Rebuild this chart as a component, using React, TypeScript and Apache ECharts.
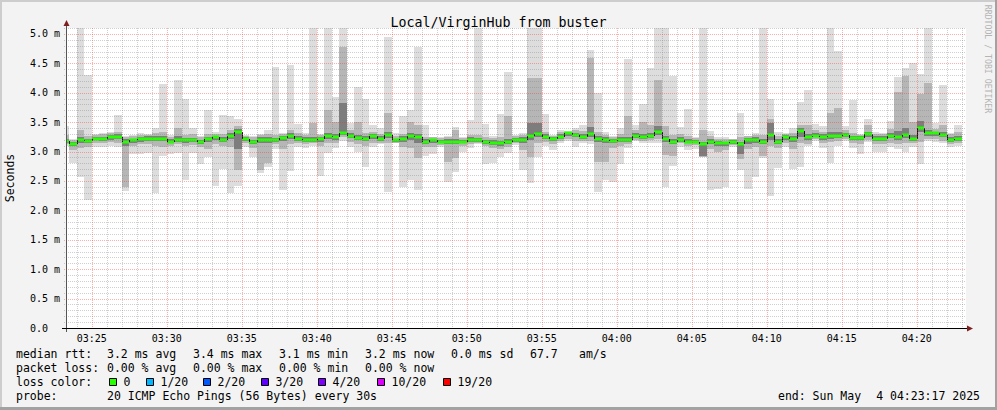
import React, { useEffect, useRef } from "react";
import * as echarts from "echarts";

// ---------- content ----------
const chartTitle = "Local/VirginHub from buster";
const yAxisName = "Seconds";
const watermark = "RRDTOOL / TOBI OETIKER";
const graphStart = "03:23:17";
const graphEnd = "04:23:17";
const firstSampleStart = "03:23:00";
const stepSeconds = 30;
const yMax = 5.1;

const xTickLabels = ["03:25", "03:30", "03:35", "03:40", "03:45", "03:50", "03:55", "04:00", "04:05", "04:10", "04:15", "04:20"];
const yTickLabels = ["0.0", "0.5 m", "1.0 m", "1.5 m", "2.0 m", "2.5 m", "3.0 m", "3.5 m", "4.0 m", "4.5 m", "5.0 m"];

// per 30 s sample, values in ms (values above the top are clipped)
const rttMin = [
  3.10, 2.80, 2.56, 2.17, 3.08, 3.07, 3.10, 3.07, 2.33, 2.96,
  2.95, 2.97, 2.30, 2.93, 2.96, 2.97, 2.52, 2.97, 2.78, 2.90,
  2.42, 2.71, 2.30, 2.42, 3.07, 2.90, 2.63, 2.73, 3.05, 2.35,
  2.67, 3.08, 3.06, 3.09, 2.59, 2.97, 3.06, 3.18, 3.08, 3.00,
  2.74, 3.07, 3.12, 2.32, 3.14, 2.39, 2.52, 2.35, 2.92, 2.96,
  3.08, 2.48, 2.66, 3.00, 3.06, 3.12, 2.78, 2.80, 2.90, 2.97,
  3.11, 2.68, 2.46, 2.90, 3.10, 3.03, 3.14, 3.18, 3.08, 3.14,
  3.12, 2.32, 2.52, 2.48, 2.78, 3.06, 3.18, 3.15, 3.15, 3.14,
  2.39, 2.76, 3.07, 3.02, 3.05, 2.90, 2.35, 2.36, 2.39, 3.08,
  2.69, 2.36, 2.56, 2.89, 2.25, 2.72, 3.08, 2.70, 2.73, 3.10,
  3.18, 3.06, 2.81, 3.10, 3.18, 3.06, 2.96, 3.16, 2.99, 2.99,
  3.08, 3.05, 3.00, 3.08, 2.78, 3.18, 3.17, 3.14, 3.08, 3.10,
];
const smokeLo2 = [
  3.12, 3.03, 3.06, 3.08, 3.14, 3.14, 3.16, 3.15, 2.40, 3.10,
  3.12, 3.13, 3.10, 3.08, 3.10, 3.12, 3.10, 3.11, 3.08, 3.05,
  3.12, 3.10, 3.08, 2.69, 3.14, 3.06, 2.68, 2.80, 3.13, 3.05,
  3.12, 3.14, 3.13, 3.14, 3.10, 3.14, 3.14, 3.25, 3.17, 3.12,
  3.10, 3.15, 3.15, 3.14, 3.15, 3.08, 3.06, 2.89, 3.08, 3.08,
  3.11, 2.83, 2.89, 3.10, 3.12, 3.14, 3.09, 3.06, 3.05, 3.07,
  3.14, 3.02, 2.90, 3.15, 3.16, 3.12, 3.18, 3.22, 3.18, 3.18,
  3.18, 2.83, 2.83, 3.06, 3.10, 3.13, 3.20, 3.18, 3.20, 3.22,
  2.94, 2.92, 3.14, 3.10, 3.11, 2.91, 3.05, 3.00, 3.02, 3.11,
  2.88, 3.05, 3.08, 2.92, 3.10, 3.06, 3.15, 3.05, 3.15, 3.13,
  3.21, 3.14, 3.16, 3.18, 3.22, 3.14, 3.12, 3.20, 3.12, 3.13,
  3.15, 3.13, 3.15, 3.14, 3.17, 3.22, 3.22, 3.18, 3.13, 3.14,
];
const smokeLo3 = [
  3.15, 3.09, 3.14, 3.14, 3.19, 3.18, 3.20, 3.21, 3.10, 3.15,
  3.17, 3.18, 3.18, 3.18, 3.14, 3.16, 3.15, 3.16, 3.13, 3.16,
  3.20, 3.16, 3.22, 3.05, 3.18, 3.13, 3.15, 3.15, 3.16, 3.18,
  3.22, 3.18, 3.17, 3.17, 3.17, 3.22, 3.20, 3.28, 3.23, 3.19,
  3.18, 3.22, 3.18, 3.23, 3.17, 3.17, 3.20, 3.15, 3.13, 3.15,
  3.14, 3.12, 3.12, 3.14, 3.16, 3.16, 3.13, 3.11, 3.10, 3.13,
  3.17, 3.14, 3.20, 3.24, 3.21, 3.18, 3.21, 3.27, 3.24, 3.21,
  3.24, 3.17, 3.15, 3.14, 3.16, 3.17, 3.23, 3.21, 3.23, 3.28,
  3.17, 3.12, 3.17, 3.14, 3.14, 2.93, 3.12, 3.09, 3.09, 3.13,
  2.95, 3.12, 3.15, 3.12, 3.20, 3.13, 3.20, 3.16, 3.25, 3.19,
  3.24, 3.20, 3.22, 3.23, 3.25, 3.19, 3.19, 3.25, 3.18, 3.18,
  3.23, 3.20, 3.23, 3.18, 3.34, 3.27, 3.27, 3.24, 3.17, 3.18,
];
const rttMedian = [
  3.18, 3.13, 3.19, 3.18, 3.22, 3.22, 3.24, 3.25, 3.17, 3.19,
  3.21, 3.22, 3.22, 3.22, 3.17, 3.20, 3.19, 3.19, 3.17, 3.21,
  3.24, 3.20, 3.27, 3.34, 3.22, 3.17, 3.20, 3.20, 3.19, 3.23,
  3.27, 3.22, 3.20, 3.20, 3.21, 3.27, 3.25, 3.31, 3.27, 3.23,
  3.22, 3.26, 3.22, 3.28, 3.19, 3.22, 3.26, 3.25, 3.17, 3.19,
  3.17, 3.17, 3.17, 3.17, 3.20, 3.19, 3.17, 3.15, 3.14, 3.17,
  3.20, 3.20, 3.26, 3.29, 3.25, 3.22, 3.25, 3.31, 3.28, 3.25,
  3.29, 3.22, 3.20, 3.18, 3.20, 3.20, 3.27, 3.24, 3.27, 3.33,
  3.22, 3.17, 3.20, 3.17, 3.17, 3.12, 3.17, 3.15, 3.14, 3.16,
  3.12, 3.20, 3.20, 3.17, 3.28, 3.17, 3.25, 3.22, 3.35, 3.24,
  3.27, 3.25, 3.27, 3.27, 3.28, 3.23, 3.23, 3.30, 3.22, 3.22,
  3.27, 3.25, 3.28, 3.22, 3.40, 3.31, 3.31, 3.28, 3.20, 3.22,
];
const smokeHi3 = [
  3.22, 3.16, 3.24, 3.22, 3.25, 3.25, 3.28, 3.29, 3.21, 3.22,
  3.24, 3.26, 3.26, 3.27, 3.21, 3.27, 3.23, 3.23, 3.20, 3.25,
  3.27, 3.24, 3.31, 3.38, 3.25, 3.20, 3.24, 3.24, 3.23, 3.27,
  3.31, 3.26, 3.24, 3.25, 3.25, 3.32, 3.30, 3.82, 3.31, 3.28,
  3.27, 3.30, 3.26, 3.34, 3.22, 3.26, 3.31, 3.30, 3.21, 3.22,
  3.20, 3.21, 3.22, 3.20, 3.24, 3.23, 3.20, 3.19, 3.18, 3.22,
  3.23, 3.24, 3.48, 3.48, 3.29, 3.25, 3.29, 3.33, 3.32, 3.29,
  3.42, 3.27, 3.24, 3.22, 3.24, 3.25, 3.31, 3.30, 3.31, 3.43,
  3.27, 3.22, 3.24, 3.21, 3.20, 3.17, 3.21, 3.18, 3.17, 3.19,
  3.16, 3.23, 3.24, 3.22, 3.48, 3.21, 3.28, 3.26, 3.40, 3.29,
  3.31, 3.29, 3.33, 3.34, 3.32, 3.27, 3.26, 3.34, 3.26, 3.26,
  3.31, 3.35, 3.40, 3.28, 3.52, 3.37, 3.34, 3.33, 3.24, 3.27,
];
const smokeHi2 = [
  3.28, 3.20, 3.36, 3.27, 3.28, 3.29, 3.31, 3.33, 3.24, 3.26,
  3.28, 3.28, 3.32, 3.34, 3.25, 3.40, 3.28, 3.30, 3.24, 3.29,
  3.30, 3.29, 3.36, 3.44, 3.27, 3.24, 3.28, 3.30, 3.28, 3.30,
  3.36, 3.32, 3.28, 3.48, 3.28, 3.71, 3.51, 4.78, 3.36, 3.51,
  3.32, 3.34, 3.30, 3.65, 3.26, 3.30, 3.51, 3.45, 3.25, 3.24,
  3.23, 3.25, 3.37, 3.23, 3.28, 3.28, 3.24, 3.23, 3.24, 3.61,
  3.26, 3.28, 4.25, 4.25, 3.33, 3.27, 3.33, 3.34, 3.36, 3.35,
  4.59, 3.34, 3.28, 3.25, 3.30, 3.61, 3.36, 3.51, 3.45, 4.22,
  3.43, 3.28, 3.30, 3.26, 3.23, 3.37, 3.26, 3.22, 3.21, 3.21,
  3.25, 3.26, 3.28, 3.28, 3.55, 3.26, 3.30, 3.31, 3.45, 3.45,
  3.36, 3.34, 3.65, 3.74, 3.37, 3.32, 3.28, 3.45, 3.30, 3.29,
  3.38, 4.02, 4.28, 3.50, 3.97, 4.16, 3.38, 3.45, 3.29, 3.33,
];
const rttMax = [
  3.43, 3.22, 5.30, 4.30, 3.30, 3.32, 3.33, 3.62, 3.26, 3.28,
  3.32, 3.30, 3.40, 4.15, 3.28, 4.21, 3.89, 3.40, 3.26, 3.70,
  3.34, 3.62, 3.60, 3.55, 3.28, 3.26, 3.30, 3.36, 4.44, 3.32,
  4.47, 3.47, 3.31, 5.30, 3.30, 5.30, 3.93, 5.30, 3.48, 4.09,
  3.89, 3.45, 3.40, 4.95, 3.31, 3.60, 3.70, 4.78, 3.45, 3.25,
  3.25, 3.27, 3.42, 3.25, 3.54, 5.30, 3.47, 3.27, 3.64, 4.36,
  3.28, 3.31, 5.30, 5.30, 3.64, 3.28, 3.37, 3.35, 3.40, 3.45,
  4.73, 3.99, 3.34, 3.27, 3.40, 4.57, 3.45, 3.81, 4.42, 5.30,
  5.30, 4.29, 3.41, 3.72, 3.25, 5.30, 3.35, 3.24, 3.25, 3.22,
  3.65, 3.27, 3.31, 5.30, 3.89, 3.34, 3.31, 3.40, 3.85, 4.05,
  3.47, 3.44, 5.30, 4.71, 3.43, 3.88, 3.29, 3.55, 3.34, 3.31,
  3.52, 4.27, 4.42, 4.50, 4.31, 5.30, 3.49, 4.13, 3.31, 3.45,
];

const statsRttLabel = "median rtt:";
const statsRtt = ["3.2 ms avg", "3.4 ms max", "3.1 ms min", "3.2 ms now", "0.0 ms sd", "67.7", "am/s"];
const statsLossLabel = "packet loss:";
const statsLoss = ["0.00 % avg", "0.00 % max", "0.00 % min", "0.00 % now"];
const lossColorLabel = "loss color:";
const lossLabels = ["0", "1/20", "2/20", "3/20", "4/20", "10/20", "19/20"];
const lossColors = ["#26ff00", "#00b8ff", "#0059ff", "#5e00ff", "#7e00ff", "#dd00ff", "#ff0000"];
const probeLabel = "probe:";
const probeText = "20 ICMP Echo Pings (56 Bytes) every 30s";
const endTextA = "end: Sun May";
const endTextB = "4 04:23:17 2025";

// ---------- helpers ----------
const toSec = (s: string) => {
  const p = s.split(":").map(Number);
  return p[0] * 3600 + p[1] * 60 + (p[2] || 0);
};
const pad = (n: number) => (n < 10 ? "0" + n : "" + n);
const FONT = '"DejaVu Sans Mono", monospace';
const RED_GRID = "rgba(255,40,40,0.38)";
const GRAY_GRID = "rgba(130,130,130,0.38)";

export default function App() {
  const ref = useRef<HTMLDivElement>(null);

  useEffect(() => {
    document.body.style.margin = "0";
    if (!ref.current) return;
    const chart = echarts.init(ref.current, null, { renderer: "svg" });

    const tMin = toSec(graphStart);
    const tMax = toSec(graphEnd);
    const t0 = toSec(firstSampleStart);

    const smokeData = rttMedian.map((_, i) => [
      t0 + i * stepSeconds,
      t0 + (i + 1) * stepSeconds,
      rttMin[i], smokeLo2[i], smokeLo3[i], rttMedian[i], smokeHi3[i], smokeHi2[i], rttMax[i],
    ]);

    const xTickValues = xTickLabels.map((s) => toSec(s));

    // grid lines: [time, isMajor] and [value, isMajor]
    const vGrid: number[][] = [];
    for (let t = Math.ceil(tMin / 60) * 60; t <= tMax; t += 60) {
      vGrid.push([t, xTickValues.indexOf(t) >= 0 ? 1 : 0]);
    }
    const hGrid: number[][] = [];
    for (let k = 1; k <= Math.round(yMax * 10); k++) hGrid.push([k / 10, k % 5 === 0 ? 1 : 0]);

    const xcol = [107, 193, 279, 365, 451, 530, 579];
    const boxX = [109, 146, 203, 261, 318, 377, 443];
    const rowY = [354, 368, 382, 396];
    const txt = (text: string, x: number, y: number, extra: any = {}) => ({
      type: "text",
      silent: true,
      x,
      y,
      style: { text, font: `11.5px ${FONT}`, fill: "#000", align: "left", verticalAlign: "middle", ...extra },
    });

    const graphic: any[] = [
      // frame
      { type: "rect", silent: true, z: 100, shape: { x: 0, y: 0, width: 997, height: 2 }, style: { fill: "#cdcdcd" } },
      { type: "rect", silent: true, z: 100, shape: { x: 0, y: 0, width: 2, height: 410 }, style: { fill: "#cdcdcd" } },
      { type: "rect", silent: true, z: 100, shape: { x: 0, y: 407, width: 997, height: 3 }, style: { fill: "#a2a2a2" } },
      { type: "rect", silent: true, z: 100, shape: { x: 995, y: 0, width: 2, height: 410 }, style: { fill: "#a2a2a2" } },
      // axis extensions and arrows
      { type: "line", silent: true, z: 50, shape: { x1: 66.5, y1: 24, x2: 66.5, y2: 332 }, style: { stroke: "#555", lineWidth: 1 } },
      { type: "line", silent: true, z: 50, shape: { x1: 62, y1: 328.5, x2: 968, y2: 328.5 }, style: { stroke: "#000", lineWidth: 1 } },
      { type: "polygon", silent: true, z: 51, shape: { points: [[63.5, 26], [66.5, 20], [69.5, 26]] }, style: { fill: "#7f1f1f" } },
      { type: "polygon", silent: true, z: 51, shape: { points: [[967, 325.5], [973, 328.5], [967, 331.5]] }, style: { fill: "#7f1f1f" } },
      // watermark
      {
        type: "text", silent: true, x: 988, y: 59, rotation: -Math.PI / 2,
        style: { text: watermark, font: `8.2px ${FONT}`, fill: "#b4b4b4", align: "center", verticalAlign: "middle" },
      },
      // legend
      txt(statsRttLabel, 16, rowY[0]),
      ...statsRtt.map((s, i) => txt(s, xcol[i], rowY[0])),
      txt(statsLossLabel, 16, rowY[1]),
      ...statsLoss.map((s, i) => txt(s, xcol[i], rowY[1])),
      txt(lossColorLabel, 16, rowY[2]),
      ...lossLabels.map((s, i) => txt(s, boxX[i] + 14.5, rowY[2])),
      ...lossColors.map((c, i) => ({
        type: "rect", silent: true,
        shape: { x: boxX[i] + 0.5, y: 378.5, width: 7, height: 7 },
        style: { fill: c, stroke: "#000", lineWidth: 1 },
      })),
      txt(probeLabel, 16, rowY[3]),
      txt(probeText, 107, rowY[3]),
      txt(endTextA, 778, rowY[3]),
      txt(endTextB, 980, rowY[3], { align: "right" }),
    ];

    const option: any = {
      animation: false,
      backgroundColor: "#f3f3f3",
      title: {
        text: chartTitle,
        left: "center",
        top: 11,
        textStyle: { fontFamily: FONT, fontSize: 13.3, fontWeight: "normal", color: "#000" },
      },
      grid: {
        left: 66, top: 28, width: 900, height: 300,
        containLabel: false, outerBoundsMode: "none",
        show: true, backgroundColor: "#ffffff", borderWidth: 0,
      },
      xAxis: {
        type: "value",
        min: tMin,
        max: tMax,
        axisLine: { show: false },
        axisTick: { show: false },
        splitLine: { show: false },
        axisLabel: {
          customValues: xTickValues,
          margin: 5,
          fontFamily: FONT,
          fontSize: 10,
          color: "#000",
          formatter: (v: number) => pad(Math.floor(v / 3600)) + ":" + pad(Math.floor((v % 3600) / 60)),
        },
      },
      yAxis: {
        type: "value",
        min: 0,
        max: yMax,
        interval: 0.5,
        name: yAxisName,
        nameLocation: "middle",
        nameGap: 50,
        nameRotate: 90,
        nameTextStyle: { fontFamily: FONT, fontSize: 11.5, color: "#000" },
        axisLine: { show: false },
        axisTick: { show: false },
        splitLine: { show: false },
        axisLabel: {
          showMaxLabel: false,
          align: "left",
          margin: 36,
          fontFamily: FONT,
          fontSize: 10,
          color: "#000",
          formatter: (v: number) => {
            const k = Math.round(v * 2);
            if (k > 10) return "";
            return yTickLabels[k];
          },
        },
      },
      series: [
        {
          type: "custom",
          name: "smoke",
          clip: true,
          z: 2,
          silent: true,
          encode: { x: [0, 1], y: [2, 8] },
          data: smokeData,
          renderItem: (params: any, api: any) => {
            const x0 = Math.round(api.coord([api.value(0), 0])[0]);
            const x1 = Math.round(api.coord([api.value(1), 0])[0]);
            const band = (lo: number, hi: number, fill: string) => {
              const yt = Math.round(api.coord([0, hi])[1]);
              const yb = Math.round(api.coord([0, lo])[1]);
              return { type: "rect", shape: { x: x0, y: yt, width: x1 - x0, height: Math.max(1, yb - yt) }, style: { fill } };
            };
            return {
              type: "group",
              children: [
                band(api.value(2), api.value(8), "#dddddd"),
                band(api.value(3), api.value(7), "#b6b6b6"),
                band(api.value(4), api.value(6), "#7d7d7d"),
              ],
            };
          },
        },
        {
          type: "custom",
          name: "median",
          clip: true,
          z: 3,
          silent: true,
          encode: { x: [0, 1], y: 5 },
          data: smokeData,
          renderItem: (params: any, api: any) => {
            const i = params.dataIndex;
            const x0 = Math.round(api.coord([api.value(0), 0])[0]);
            const x1 = Math.round(api.coord([api.value(1), 0])[0]);
            const ym = Math.round(api.coord([0, api.value(5)])[1]);
            const children: any[] = [
              { type: "rect", shape: { x: x0, y: ym - 1.5, width: x1 - x0, height: 3 }, style: { fill: "#26ff00" } },
            ];
            if (i > 0) {
              const yp = Math.round(api.coord([0, rttMedian[i - 1]])[1]);
              if (yp !== ym) {
                children.push({
                  type: "line",
                  shape: { x1: x0 + 0.5, y1: yp, x2: x0 + 0.5, y2: ym },
                  style: { stroke: "#111", lineWidth: 1 },
                });
              }
            }
            return { type: "group", children };
          },
        },
        {
          type: "custom",
          name: "vgrid",
          clip: false,
          z: 4,
          silent: true,
          encode: { x: 0 },
          data: vGrid,
          renderItem: (params: any, api: any) => {
            const x = Math.round(api.coord([api.value(0), 0])[0]) + 0.5;
            const cs = params.coordSys;
            const major = api.value(1) === 1;
            return {
              type: "line",
              shape: { x1: x, y1: cs.y, x2: x, y2: cs.y + cs.height + 2 },
              style: { stroke: major ? RED_GRID : GRAY_GRID, lineWidth: 1, lineDash: [1, 1] },
            };
          },
        },
        {
          type: "custom",
          name: "hgrid",
          clip: false,
          z: 4,
          silent: true,
          encode: { y: 0 },
          data: hGrid,
          renderItem: (params: any, api: any) => {
            const y = Math.round(api.coord([tMin, api.value(0)])[1]) + 0.5;
            const cs = params.coordSys;
            const major = api.value(1) === 1;
            return {
              type: "line",
              shape: { x1: cs.x - 2, y1: y, x2: cs.x + cs.width, y2: y },
              style: { stroke: major ? RED_GRID : GRAY_GRID, lineWidth: 1, lineDash: [1, 1] },
            };
          },
        },
      ],
      graphic,
    };

    chart.setOption(option);
    return () => chart.dispose();
  }, []);

  return <div ref={ref} style={{ width: 997, height: 410 }} />;
}
